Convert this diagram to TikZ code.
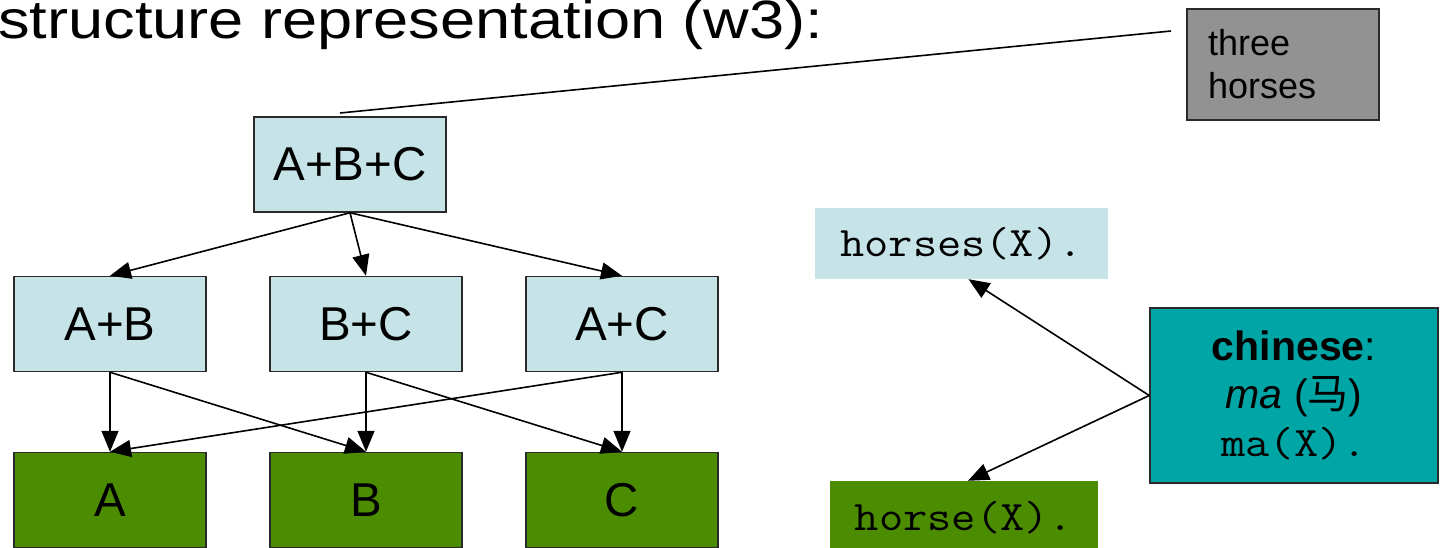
\documentclass[tikz,border=0pt]{standalone}
\usepackage{fontspec}
\setmainfont{Liberation Sans}
\newfontfamily\cjkfont{Noto Sans CJK SC}
\usetikzlibrary{arrows.meta}
\definecolor{paleblue}{HTML}{C6E4E8}
\definecolor{leafgreen}{HTML}{4C8C00}
\definecolor{tealbox}{HTML}{00A6A6}
\definecolor{notegray}{HTML}{929292}
\definecolor{edgegray}{HTML}{2A2A2A}
% typewriter code set a little wider, Courier-like
\newcommand{\code}[1]{\scalebox{1.12}[1]{\ttfamily #1}}
\begin{document}
\begin{tikzpicture}[x=1pt,y=-1pt,
  box/.style={draw=edgegray, line width=1.5pt, minimum width=192pt, minimum height=95pt,
    inner sep=0pt, font=\fontsize{47.5}{57}\selectfont},
  upper/.style={box, fill=paleblue},
  lower/.style={box, fill=leafgreen},
  fact/.style={inner sep=0pt, font=\fontsize{42}{49}\selectfont},
  link/.style={line width=1.6pt, -{Triangle[length=21pt,width=17pt]}}
]
\useasboundingbox (0,0) rectangle (1444,547);
\clip (0,0) rectangle (1444,547);

% heading
\node[anchor=base west, inner sep=0pt, font=\fontsize{54}{60}\selectfont] (title) at (-2,38)
  {\scalebox{1.17}[1]{structure representation (w3):}};

% lattice of sums
\node[upper] (abc) at (350,164.5) {A+B+C};
\node[upper] (ab) at (110,324) {A+B};
\node[upper] (bc) at (366,324) {B+C};
\node[upper] (ac) at (622,324) {A+C};
\node[lower] (a) at (110,500) {A};
\node[lower] (b) at (366,500) {B};
\node[lower] (c) at (622,500) {C};

\draw[link] (abc.south) -- (ab.north);
\draw[link] (abc.south) -- (bc.north);
\draw[link] (abc.south) -- (ac.north);
\draw[link] (ab.south) -- (a.north);
\draw[link] (ab.south) -- (b.north);
\draw[link] (bc.south) -- (b.north);
\draw[link] (bc.south) -- (c.north);
\draw[link] (ac.south) -- (c.north);
\draw[link] (ac.south) -- (a.north);

% gloss of the top node
\node[draw=edgegray, line width=1.5pt, fill=notegray, minimum width=192pt, minimum height=111pt,
  inner xsep=21pt, inner ysep=0pt, text width=150pt, align=left,
  font=\fontsize{36}{43}\selectfont] (three) at (1283,64.5) {three\\horses};
\coordinate (gA) at (340,113);
\coordinate (gB) at (1171,31);
\draw[line width=1.6pt] (gA) -- (gB);

% word meanings
\node[fact, fill=paleblue, minimum width=293pt, minimum height=71pt] (hs) at (961.5,243.5) {\code{horses(X).}};
\node[fact, fill=leafgreen, minimum width=268pt, minimum height=74pt] (hz) at (964,518) {\code{horse(X).}};
\node[draw=edgegray, line width=1.5pt, fill=tealbox, minimum width=288pt, minimum height=175pt,
  inner sep=0pt, align=center, font=\fontsize{41}{48}\selectfont] (cn) at (1294,395.5)
  {\textbf{chinese}:\\\textit{ma} ({\cjkfont 马})\\{\fontsize{42}{48}\selectfont\code{ma(X).}}};

\draw[link] (cn.west) -- ([xshift=7pt]hs.south);
\draw[link] (cn.west) -- ([xshift=4pt]hz.north);
\end{tikzpicture}
\end{document}
